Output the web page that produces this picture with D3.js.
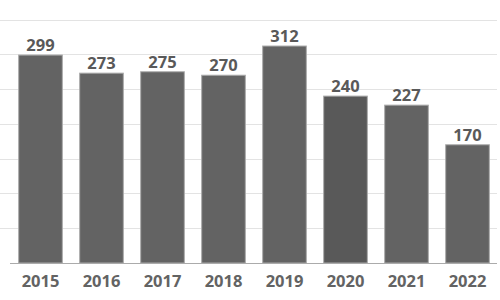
<!DOCTYPE html>
<html>
<head>
<meta charset="utf-8">
<script src="https://cdn.jsdelivr.net/npm/d3@7"></script>
<style>
  body { margin: 0; background: #fff; }
  svg { display: block; font-family: "Open Sans", "Noto Sans", sans-serif; }
</style>
</head>
<body>
<div id="chart"></div>
<script>
const years = ["2015", "2016", "2017", "2018", "2019", "2020", "2021", "2022"]
const values = [299, 273, 275, 270, 312, 240, 227, 170]
const barColors = ["#636363", "#636363", "#636363", "#636363", "#636363", "#595959", "#636363", "#636363"]
const gridTicks = [0, 50, 100, 150, 200, 250, 300, 350]

const width = 500
const height = 300

const svg = d3.select("#chart").append("svg")
  .attr("width", width)
  .attr("height", height)

const x = d3.scaleBand()
  .domain(years)
  .range([10, 498])
  .paddingInner(0.284)
  .paddingOuter(0.142)

const y = d3.scaleLinear()
  .domain([0, 350])
  .range([263, 19.6])

// ====== gridlines ======
svg.append("g")
  .selectAll("line")
  .data(gridTicks.filter(d => d > 0))
  .join("line")
  .attr("x1", 0)
  .attr("x2", 497)
  .attr("y1", d => Math.round(y(d)) + 0.5)
  .attr("y2", d => Math.round(y(d)) + 0.5)
  .attr("stroke", "#e3e3e3")
  .attr("stroke-width", 1)

// ====== bars ======
const data = years.map((d, i) => ({year: d, value: values[i], color: barColors[i]}))

svg.append("g")
  .selectAll("rect")
  .data(data)
  .join("rect")
  .attr("x", d => x(d.year))
  .attr("y", d => y(d.value))
  .attr("width", x.bandwidth())
  .attr("height", d => y(0) - y(d.value))
  .attr("fill", d => d.color)
  .attr("stroke", "#ababab")
  .attr("stroke-width", 1)

// baseline
svg.append("line")
  .attr("x1", 10)
  .attr("x2", 497)
  .attr("y1", Math.round(y(0)) + 0.5)
  .attr("y2", Math.round(y(0)) + 0.5)
  .attr("stroke", "#ababab")

// value labels
svg.append("g")
  .selectAll("text")
  .data(data)
  .join("text")
  .attr("x", d => x(d.year) + x.bandwidth() / 2)
  .attr("y", d => y(d.value) - 4)
  .attr("text-anchor", "middle")
  .attr("font-size", 16.5)
  .attr("font-weight", "bold")
  .attr("fill", "#595959")
  .text(d => d.value)

// year labels
const xAxis = svg.append("g")
  .attr("transform", `translate(0,${y(0)})`)
  .call(d3.axisBottom(x).tickSize(0).tickPadding(0))
xAxis.select(".domain").remove()
xAxis.selectAll("text")
  .attr("dy", null)
  .attr("y", 24)
  .attr("font-family", "\"Open Sans\", \"Noto Sans\", sans-serif")
  .attr("font-size", 16.5)
  .attr("font-weight", "bold")
  .attr("fill", "#636363")
</script>
</body>
</html>
